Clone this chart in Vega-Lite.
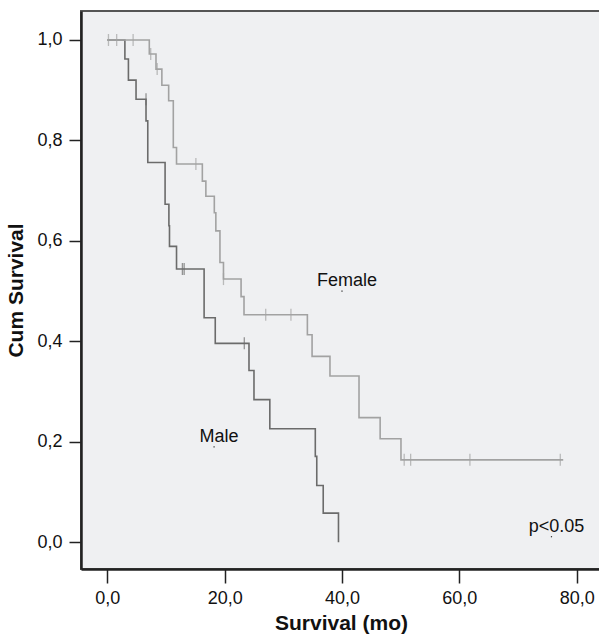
{
  "$schema": "https://vega.github.io/schema/vega-lite/v6.json",
  "autosize": "none",
  "width": 520,
  "height": 558,
  "padding": {"left": 81, "top": 11, "right": 0, "bottom": 66},
  "background": "white",
  "config": {
    "view": {"fill": "#eff0f2", "stroke": "#555555", "strokeWidth": 2},
    "font": "Liberation Sans",
    "axis": {
      "grid": false,
      "domainColor": "#222222",
      "domainWidth": 2.5,
      "tickColor": "#222222",
      "tickWidth": 1.5,
      "labelFont": "Liberation Sans",
      "labelFontSize": 18,
      "labelColor": "#111111",
      "titleFont": "Liberation Sans",
      "titleFontSize": 21,
      "titleFontWeight": "bold",
      "titleColor": "#111111"
    }
  },
  "datasets": {
    "curves": [
      {"group": "Male", "time": 0, "surv": 1.0},
      {"group": "Male", "time": 3.0, "surv": 0.962},
      {"group": "Male", "time": 3.6, "surv": 0.92},
      {"group": "Male", "time": 4.9, "surv": 0.882},
      {"group": "Male", "time": 6.6, "surv": 0.839},
      {"group": "Male", "time": 6.9, "surv": 0.756},
      {"group": "Male", "time": 9.85, "surv": 0.673},
      {"group": "Male", "time": 10.5, "surv": 0.63},
      {"group": "Male", "time": 10.6, "surv": 0.589},
      {"group": "Male", "time": 11.8, "surv": 0.544},
      {"group": "Male", "time": 16.5, "surv": 0.447},
      {"group": "Male", "time": 18.4, "surv": 0.396},
      {"group": "Male", "time": 24.15, "surv": 0.342},
      {"group": "Male", "time": 25.0, "surv": 0.284},
      {"group": "Male", "time": 27.7, "surv": 0.226},
      {"group": "Male", "time": 35.45, "surv": 0.171},
      {"group": "Male", "time": 35.7, "surv": 0.113},
      {"group": "Male", "time": 36.8, "surv": 0.058},
      {"group": "Male", "time": 39.4, "surv": 0.0},
      {"group": "Female", "time": 0, "surv": 1.0},
      {"group": "Female", "time": 7.16, "surv": 0.972},
      {"group": "Female", "time": 8.3, "surv": 0.942},
      {"group": "Female", "time": 9.3, "surv": 0.91},
      {"group": "Female", "time": 10.46, "surv": 0.879},
      {"group": "Female", "time": 11.25, "surv": 0.786},
      {"group": "Female", "time": 11.8, "surv": 0.753},
      {"group": "Female", "time": 16.2, "surv": 0.719},
      {"group": "Female", "time": 16.8, "surv": 0.689},
      {"group": "Female", "time": 18.24, "surv": 0.656},
      {"group": "Female", "time": 18.5, "surv": 0.62},
      {"group": "Female", "time": 19.2, "surv": 0.557},
      {"group": "Female", "time": 19.8, "surv": 0.524},
      {"group": "Female", "time": 22.8, "surv": 0.489},
      {"group": "Female", "time": 23.3, "surv": 0.453},
      {"group": "Female", "time": 34.1, "surv": 0.413},
      {"group": "Female", "time": 34.9, "surv": 0.37},
      {"group": "Female", "time": 37.95, "surv": 0.331},
      {"group": "Female", "time": 42.9, "surv": 0.248},
      {"group": "Female", "time": 46.5, "surv": 0.206},
      {"group": "Female", "time": 50.05, "surv": 0.164},
      {"group": "Female", "time": 77.7, "surv": 0.164}
    ],
    "censored": [
      {"group": "Male", "time": 6.6, "surv": 0.882},
      {"group": "Male", "time": 12.8, "surv": 0.544},
      {"group": "Male", "time": 13.1, "surv": 0.544},
      {"group": "Male", "time": 23.35, "surv": 0.396},
      {"group": "Female", "time": 0.2, "surv": 1.0},
      {"group": "Female", "time": 1.6, "surv": 1.0},
      {"group": "Female", "time": 4.4, "surv": 1.0},
      {"group": "Female", "time": 7.4, "surv": 0.972},
      {"group": "Female", "time": 8.5, "surv": 0.942},
      {"group": "Female", "time": 15.1, "surv": 0.753},
      {"group": "Female", "time": 19.8, "surv": 0.524},
      {"group": "Female", "time": 27.0, "surv": 0.453},
      {"group": "Female", "time": 31.3, "surv": 0.453},
      {"group": "Female", "time": 50.6, "surv": 0.164},
      {"group": "Female", "time": 51.7, "surv": 0.164},
      {"group": "Female", "time": 61.8, "surv": 0.164},
      {"group": "Female", "time": 77.2, "surv": 0.164}
    ],
    "labels": [
      {"label": "Female", "time": 40.0, "surv": 0.5},
      {"label": "Male", "time": 18.2, "surv": 0.19},
      {"label": "p<0.05", "time": 75.7, "surv": 0.011}
    ]
  },
  "encoding": {
    "x": {
      "field": "time", "type": "quantitative",
      "scale": {"domain": [-4.48, 84.14], "nice": false, "zero": false},
      "axis": {
        "values": [0, 20, 40, 60, 80],
        "tickSize": 14,
        "labelPadding": 6,
        "labelExpr": "replace(format(datum.value, '.1f'), '.', ',')",
        "title": "Survival (mo)",
        "titlePadding": 5
      }
    },
    "y": {
      "field": "surv", "type": "quantitative",
      "scale": {"domain": [-0.0533, 1.0577], "nice": false, "zero": false},
      "axis": {
        "values": [0, 0.2, 0.4, 0.6, 0.8, 1.0],
        "tickSize": 12,
        "labelPadding": 7,
        "labelExpr": "replace(format(datum.value, '.1f'), '.', ',')",
        "title": "Cum Survival",
        "titlePadding": 10
      }
    }
  },
  "layer": [
    {
      "data": {"name": "curves"},
      "mark": {"type": "line", "interpolate": "step-after", "strokeWidth": 1.6},
      "encoding": {
        "color": {"field": "group", "type": "nominal",
          "scale": {"domain": ["Male", "Female"], "range": ["#6b6b6b", "#a2a2a2"]},
          "legend": null}
      }
    },
    {
      "data": {"name": "censored"},
      "mark": {"type": "tick", "orient": "vertical", "size": 12, "thickness": 1.3},
      "encoding": {
        "color": {"field": "group", "type": "nominal",
          "scale": {"domain": ["Male", "Female"], "range": ["#6b6b6b", "#a2a2a2"]},
          "legend": null}
      }
    },
    {
      "data": {"name": "labels"},
      "mark": {"type": "point", "shape": "square", "size": 1.5, "filled": true, "color": "#333333", "opacity": 1},
      "encoding": {}
    },
    {
      "data": {"name": "labels"},
      "mark": {"type": "text", "align": "center", "baseline": "alphabetic", "dx": 5, "dy": -5, "fontSize": 18, "color": "#111111", "font": "Liberation Sans"},
      "encoding": {"text": {"field": "label"}}
    }
  ]
}
